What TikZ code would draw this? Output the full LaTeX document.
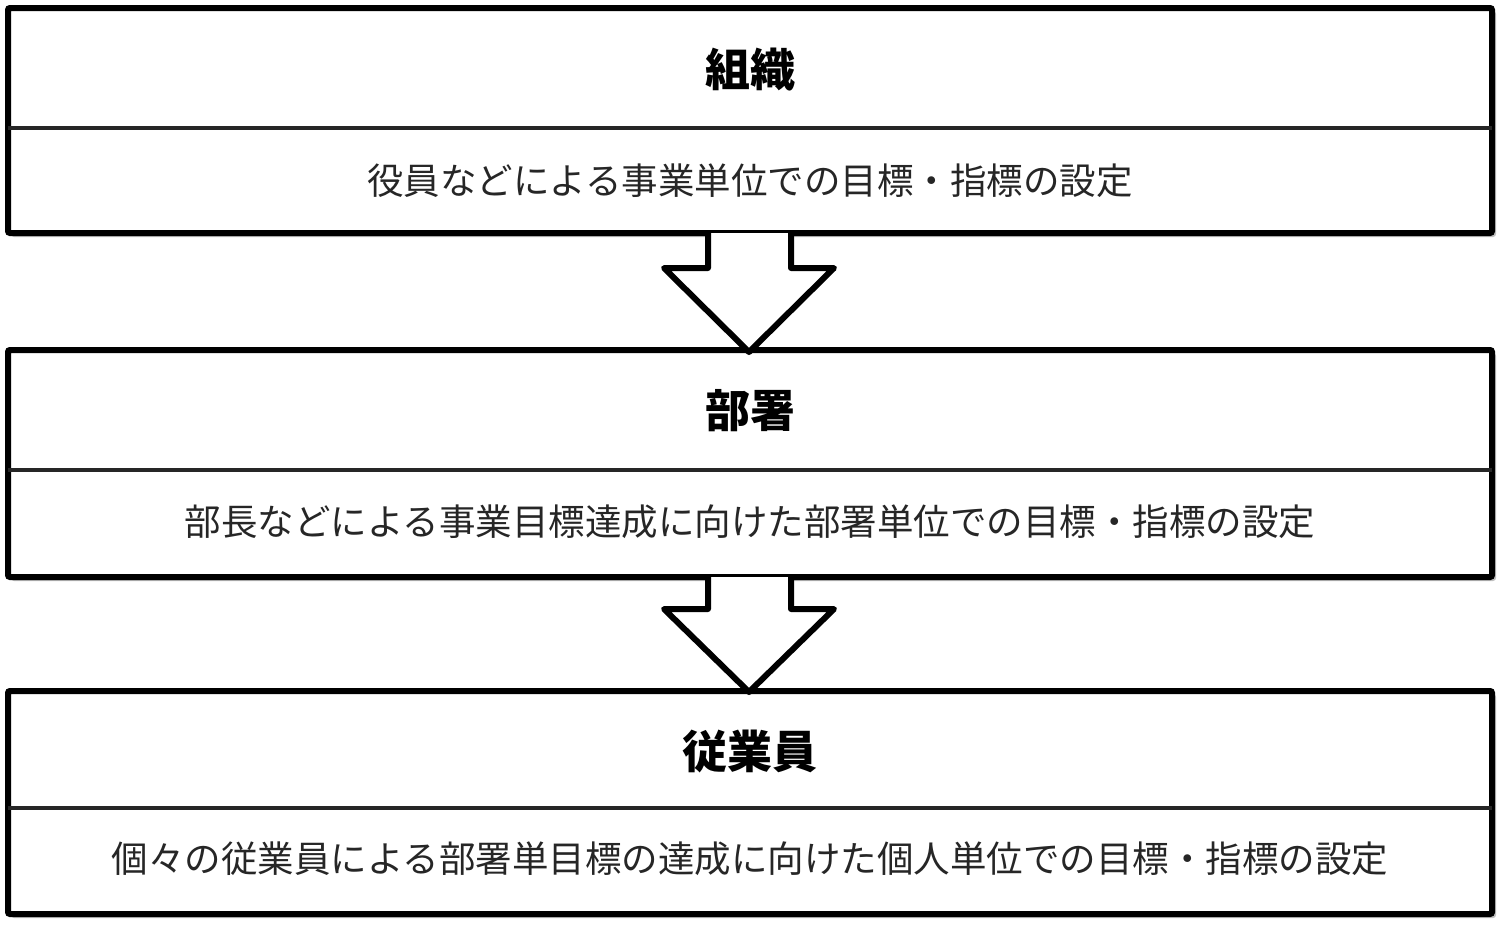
\documentclass[tikz,border=0pt]{standalone}
\usepackage{fontspec}
\setmainfont{Noto Sans CJK JP}
\begin{document}
\begin{tikzpicture}[x=1pt,y=-1pt,
  outerbox/.style={draw=black,line width=6pt,rounded corners=2pt,fill=white},
  shadowbox/.style={fill=black!25,rounded corners=3pt},
  divline/.style={draw=black!85,line width=3.5pt},
  titletext/.style={font=\fontsize{45}{50}\selectfont\bfseries,inner sep=0pt},
  subtext/.style={font=\fontsize{36.5}{40}\selectfont,inner sep=0pt,text=black!85},
  downarrow/.style={draw=black,line width=6pt,fill=white,line join=round}]
\useasboundingbox (0,0) rectangle (1500,930);
% box 1
\fill[shadowbox] (11,11) rectangle (1496,237);
\draw[outerbox] (8,8) rectangle (1492,233);
\draw[divline] (8,128) -- (1492,128);
\node[titletext] (t1) at (750,70) {組織};
\node[subtext] (s1) at (750,181) {役員などによる事業単位での目標・指標の設定};
% box 2
\fill[shadowbox] (11,353) rectangle (1496,581);
\draw[outerbox] (8,350) rectangle (1492,577);
\draw[divline] (8,470) -- (1492,470);
\node[titletext] (t2) at (750,411) {部署};
\node[subtext] (s2) at (750,522) {部長などによる事業目標達成に向けた部署単位での目標・指標の設定};
% box 3
\fill[shadowbox] (11,694) rectangle (1496,918);
\draw[outerbox] (8,691) rectangle (1492,914);
\draw[divline] (8,808) -- (1492,808);
\node[titletext] (t3) at (750,751) {従業員};
\node[subtext] (s3) at (750,859) {個々の従業員による部署単目標の達成に向けた個人単位での目標・指標の設定};
% arrows
\draw[downarrow] (708,233) -- (708,268) -- (664,268) -- (749,352) -- (834,268) -- (791,268) -- (791,233);
\fill[white] (711.5,236.5) rectangle (787.5,241);
\draw[downarrow] (708,577) -- (708,609) -- (664,609) -- (749,692) -- (834,609) -- (791,609) -- (791,577);
\fill[white] (711.5,580.5) rectangle (787.5,585);
\end{tikzpicture}
\end{document}
